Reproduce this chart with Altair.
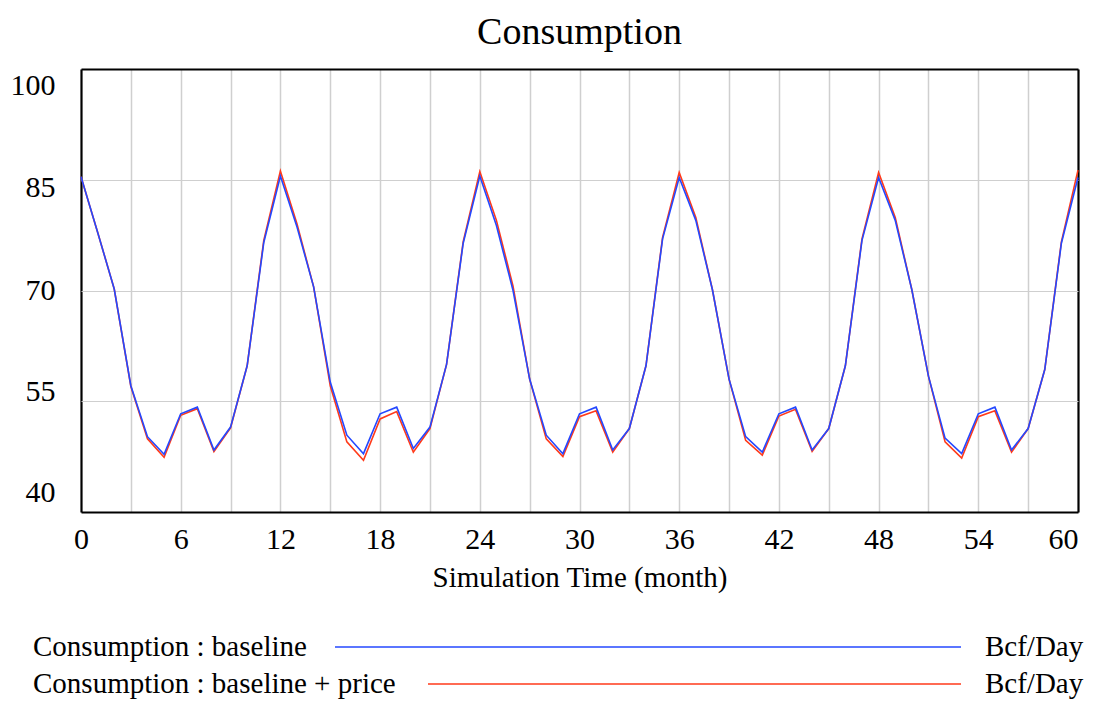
import altair as alt
import pandas as pd

# ---- data ----
months = list(range(0, 61))
baseline = [
    85.4, 77.9, 70.2, 57.1, 50.2, 47.8, 53.3, 54.2, 48.4, 51.5, 59.8, 76.5,
    85.5, 78.6, 70.5, 57.6, 50.4, 47.9, 53.3, 54.2, 48.6, 51.5, 60.0, 76.4,
    85.5, 78.8, 70.0, 58.0, 50.4, 47.9, 53.3, 54.2, 48.4, 51.3, 59.8, 77.0,
    85.3, 79.5, 70.1, 58.0, 50.2, 48.1, 53.3, 54.2, 48.4, 51.3, 59.8, 76.8,
    85.3, 79.5, 70.1, 58.4, 50.0, 47.9, 53.3, 54.2, 48.4, 51.3, 59.3, 76.4,
    85.3,
]
baseline_price = [
    85.4, 77.9, 70.2, 57.0, 49.9, 47.4, 53.1, 54.0, 48.2, 51.4, 59.8, 76.8,
    86.2, 79.0, 70.5, 57.1, 49.5, 47.0, 52.6, 53.6, 48.1, 51.3, 60.0, 76.6,
    86.1, 79.5, 70.6, 58.0, 49.9, 47.5, 52.9, 53.7, 48.1, 51.3, 59.8, 77.2,
    86.0, 79.9, 70.1, 58.0, 49.7, 47.7, 53.0, 53.9, 48.2, 51.3, 59.8, 77.0,
    86.0, 79.9, 70.1, 58.4, 49.5, 47.3, 52.9, 53.7, 48.1, 51.3, 59.3, 76.6,
    86.3,
]
series_names = ["Consumption : baseline", "Consumption : baseline + price"]
unit_label = "Bcf/Day"
x_ticks = list(range(0, 61, 3))
y_ticks = [40, 55, 70, 85, 100]

FONT = "Liberation Serif"
BLUE = "#2448ff"
RED = "#ff3a1a"
GRID = "#cfcfcf"
W, H = 997, 443

df_base = pd.DataFrame({"month": months, "value": baseline})
df_price = pd.DataFrame({"month": months, "value": baseline_price})

x_enc = alt.X(
    "month:Q",
    scale=alt.Scale(domain=[0, 60], nice=False, zero=False),
    axis=alt.Axis(
        values=x_ticks,
        labelExpr="datum.value % 6 == 0 ? datum.label : ''",
        labelAlign={"condition": {"test": "datum.value == 60", "value": "right"}, "value": "center"},
        title="Simulation Time (month)",
        titleFont=FONT, titleFontSize=29, titleFontWeight="normal", titleColor="black",
        titlePadding=9,
        labelFont=FONT, labelFontSize=30, labelColor="black", labelPadding=12,
        grid=True,
        gridColor={"condition": {"test": "datum.value == 0 || datum.value == 60", "value": "black"},
                   "value": GRID},
        gridWidth={"condition": {"test": "datum.value == 0 || datum.value == 60", "value": 2.2},
                   "value": 1.5},
        domain=False, ticks=False,
    ),
)
y_enc = alt.Y(
    "value:Q",
    scale=alt.Scale(domain=[40, 100], nice=False, zero=False),
    axis=alt.Axis(
        values=y_ticks,
        title=None,
        labelFont=FONT, labelFontSize=30, labelColor="black", labelPadding=26,
        labelOffset={
            "condition": [
                {"test": "datum.value == 100", "value": 16},
                {"test": "datum.value == 85", "value": 8},
                {"test": "datum.value == 55", "value": -10},
                {"test": "datum.value == 40", "value": -20},
            ],
            "value": 0,
        },
        grid=True,
        gridColor={"condition": {"test": "datum.value == 40 || datum.value == 100", "value": "black"},
                   "value": GRID},
        gridWidth={"condition": {"test": "datum.value == 40 || datum.value == 100", "value": 2.2},
                   "value": 1.2},
        domain=False, ticks=False,
    ),
)

line_price = alt.Chart(df_price).mark_line(color=RED, strokeWidth=1.6).encode(x=x_enc, y=y_enc)
line_base = alt.Chart(df_base).mark_line(color=BLUE, strokeWidth=1.6).encode(x=x_enc, y=y_enc)

# ---- custom legend (below the plot) ----
def legend_text(label, xpos, ypos):
    return alt.Chart(pd.DataFrame({"t": [label]})).mark_text(
        font=FONT, fontSize=29, color="black", align="left", baseline="middle"
    ).encode(text="t:N", x=alt.value(xpos), y=alt.value(ypos))

def legend_line(color, x1, x2, ypos):
    return alt.Chart(pd.DataFrame({"t": [0]})).mark_rule(color=color, strokeWidth=1.5).encode(
        x=alt.value(x1), x2=alt.value(x2), y=alt.value(ypos)
    )

row1, row2 = 578, 615
legend = [
    legend_text(series_names[0], -48, row1),
    legend_line(BLUE, 254, 880, row1),
    legend_text(unit_label, 904, row1),
    legend_text(series_names[1], -48, row2),
    legend_line(RED, 347, 880, row2),
    legend_text(unit_label, 904, row2),
]

chart = alt.layer(line_price, line_base, *legend).properties(
    width=W,
    height=H,
    title=alt.Title("Consumption", font=FONT, fontSize=38, fontWeight="normal",
                    color="black", anchor="middle", offset=17),
    autosize="none",
    padding={"left": 73, "top": 61, "right": 15, "bottom": 190},
).configure_view(stroke="black", strokeWidth=2).configure(background="white")

chart.save("out.html", embed_options={"renderer": "svg", "actions": False})
